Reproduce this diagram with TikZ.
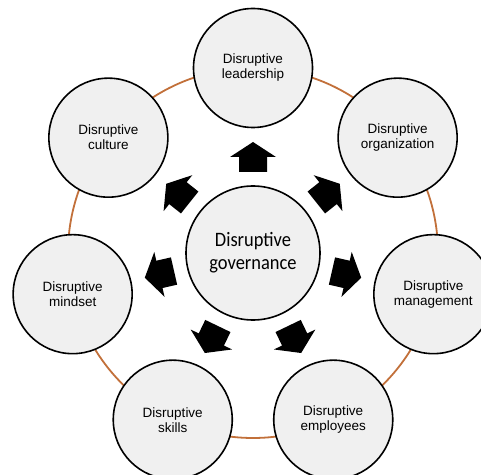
\documentclass[tikz,border=0pt]{standalone}
\usepackage{fontspec}
\setmainfont{Liberation Sans}
\newfontfamily\centerfont[FakeStretch=0.9]{Carlito}
\usetikzlibrary{calc}
\definecolor{ringc}{RGB}{194,112,58}
\definecolor{cfill}{RGB}{240,240,240}
\begin{document}
\begin{tikzpicture}[x=1pt,y=1pt,
  outer/.style={circle,draw=black,line width=1.6pt,fill=cfill,minimum size=119pt,inner sep=0pt,
    align=center,font=\fontsize{13.5}{15}\selectfont},
  inner/.style={circle,draw=black,line width=1.6pt,fill=cfill,minimum size=134pt,inner sep=0pt,
    align=center,font=\centerfont\fontsize{20.5}{23}\selectfont},
  blockarrow/.style={fill=black}]
\useasboundingbox (0,0) rectangle (481,474);
\coordinate (C) at (253,221);
\draw[ringc,line width=1.8pt] (C) circle (185);
\node[outer] (lead) at ($(C)+(90:185)$) {Disruptive\\leadership};
\node[outer] (org) at ($(C)+(38.57:185)$) {Disruptive\\organization};
\node[outer] (man) at ($(C)+(-12.86:185)$) {Disruptive\\management};
\node[outer] (emp) at ($(C)+(-64.29:185)$) {Disruptive\\employees};
\node[outer] (ski) at ($(C)+(-115.71:185)$) {Disruptive\\skills};
\node[outer] (mind) at ($(C)+(192.86:185)$) {Disruptive\\mindset};
\node[outer] (cult) at ($(C)+(141.43:185)$) {Disruptive\\culture};
\node[inner] (gov) at (C) {Disruptive\\governance};
\foreach \a in {90,38.57,-12.86,-64.29,-115.71,192.86,141.43}{
  \begin{scope}[shift={(C)},rotate=\a]
    \fill[blockarrow] (81,-14) -- (96,-14) -- (96,-23) -- (111,0) -- (96,23) -- (96,14) -- (81,14) -- cycle;
  \end{scope}
}
\end{tikzpicture}
\end{document}
